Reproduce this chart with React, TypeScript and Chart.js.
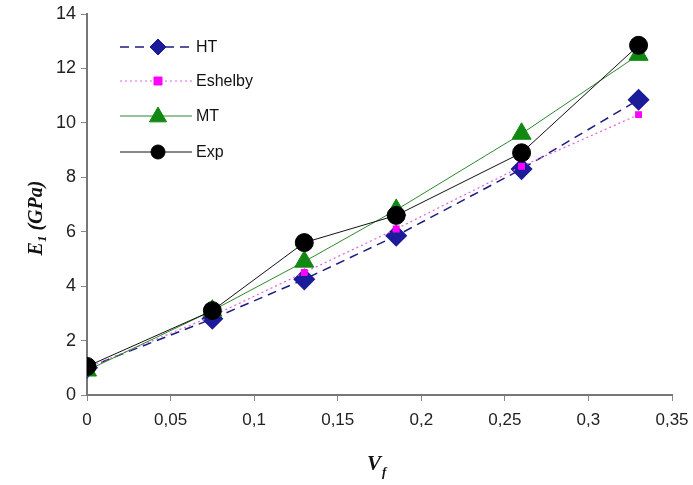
import React, { useEffect, useRef } from "react";
import { Chart, registerables } from "chart.js";
Chart.register(...registerables);

const vf = [0, 0.075, 0.13, 0.185, 0.26, 0.33];
const htValues = [1.0, 2.8, 4.25, 5.85, 8.3, 10.85];
const eshelbyValues = [1.0, 2.9, 4.5, 6.1, 8.4, 10.3];
const mtValues = [0.9, 3.1, 4.9, 6.8, 9.6, 12.5];
const expValues = [1.05, 3.1, 5.6, 6.6, 8.9, 12.85];
const seriesNames = ["HT", "Eshelby", "MT", "Exp"];
const xTicks = [0, 0.05, 0.1, 0.15, 0.2, 0.25, 0.3, 0.35];

const pts = (vals: number[]) => vf.map((x, i) => ({ x, y: vals[i] }));

function drawPointLocal(ctx: CanvasRenderingContext2D, style: string, r: number, x: number, y: number) {
  ctx.beginPath();
  if (style === "rectRot") {
    ctx.moveTo(x, y - r);
    ctx.lineTo(x + r, y);
    ctx.lineTo(x, y + r);
    ctx.lineTo(x - r, y);
    ctx.closePath();
  } else if (style === "rect") {
    ctx.rect(x - r, y - r, 2 * r, 2 * r);
  } else if (style === "triangle") {
    ctx.moveTo(x, y - r);
    ctx.lineTo(x + r * 0.95, y + r * 0.65);
    ctx.lineTo(x - r * 0.95, y + r * 0.65);
    ctx.closePath();
  } else {
    ctx.arc(x, y, r, 0, Math.PI * 2);
  }
  ctx.fill();
  ctx.stroke();
}

const titlesLegendPlugin = {
  id: "titlesLegend",
  afterDraw(chart: any) {
    const ctx = chart.ctx;
    ctx.save();
    // Y title: E1 (GPa)
    ctx.translate(37, 218);
    ctx.rotate(-Math.PI / 2);
    ctx.fillStyle = "#111";
    ctx.textBaseline = "middle";
    ctx.textAlign = "left";
    const big = "bold italic 20px 'Liberation Serif'";
    const small = "bold italic 13px 'Liberation Serif'";
    ctx.font = big;
    const wE = ctx.measureText("E").width;
    const wRest = ctx.measureText(" (GPa)").width;
    ctx.font = small;
    const w1 = ctx.measureText("1").width;
    const total = wE + w1 + wRest;
    const x0 = -total / 2;
    ctx.font = big;
    ctx.fillText("E", x0, 0);
    ctx.font = small;
    ctx.fillText("1", x0 + wE, 6);
    ctx.font = big;
    ctx.fillText(" (GPa)", x0 + wE + w1, 0);
    ctx.restore();

    // X title: Vf
    ctx.save();
    ctx.fillStyle = "#111";
    ctx.textBaseline = "middle";
    ctx.textAlign = "left";
    ctx.font = "bold italic 21px 'Liberation Serif'";
    ctx.fillText("V", 367, 465);
    ctx.font = "bold italic 13px 'Liberation Serif'";
    ctx.fillText("f", 382, 473);
    ctx.restore();

    // Legend
    ctx.save();
    const rows = [47, 81, 116, 152];
    chart.data.datasets.forEach((ds: any, i: number) => {
      const y = rows[i];
      ctx.save();
      ctx.strokeStyle = ds.borderColor;
      ctx.lineWidth = ds.borderWidth;
      ctx.setLineDash(ds.borderDash || []);
      ctx.beginPath();
      ctx.moveTo(120, y);
      ctx.lineTo(192, y);
      ctx.stroke();
      ctx.restore();
      ctx.save();
      ctx.fillStyle = ds.backgroundColor;
      ctx.strokeStyle = ds.pointBorderColor;
      ctx.lineWidth = 1;
      drawPointLocal(ctx, ds.pointStyle, ds.legendRadius, 158, y);
      ctx.restore();
      ctx.fillStyle = "#111";
      ctx.font = "16px 'Liberation Sans'";
      ctx.textAlign = "left";
      ctx.textBaseline = "middle";
      ctx.fillText(seriesNames[i], 196, y + 1);
    });
    ctx.restore();
  },
};

export default function App() {
  const ref = useRef<HTMLCanvasElement>(null);
  useEffect(() => {
    document.body.style.margin = "0";
    const canvas = ref.current!;
    const chart = new Chart(canvas, {
      type: "scatter",
      data: {
        datasets: [
          {
            label: "HT",
            data: pts(htValues),
            showLine: true,
            borderColor: "#1c1c80",
            backgroundColor: "#1c1c9a",
            borderWidth: 1.5,
            borderDash: [9, 6],
            pointStyle: "rectRot",
            pointRadius: 10,
            pointBorderColor: "#1c1c9a",
            order: 3,
            legendRadius: 8,
          } as any,
          {
            label: "Eshelby",
            data: pts(eshelbyValues),
            showLine: true,
            borderColor: "#e060e0",
            backgroundColor: "#ff00ff",
            borderWidth: 1.2,
            borderDash: [2, 3],
            pointStyle: "rect",
            pointRadius: 4,
            pointBorderColor: "#ff00ff",
            order: 2,
            legendRadius: 4,
          } as any,
          {
            label: "MT",
            data: pts(mtValues),
            showLine: true,
            borderColor: "#2a8a2a",
            backgroundColor: "#118811",
            borderWidth: 1,
            pointStyle: "triangle",
            pointRadius: 11,
            pointBorderColor: "#118811",
            order: 1,
            legendRadius: 9,
          } as any,
          {
            label: "Exp",
            data: pts(expValues),
            showLine: true,
            borderColor: "#111111",
            backgroundColor: "#000000",
            borderWidth: 1,
            pointStyle: "circle",
            pointRadius: 9,
            pointBorderColor: "#000000",
            order: 0,
            legendRadius: 7,
          } as any,
        ],
      },
      options: {
        animation: false,
        responsive: false,
        maintainAspectRatio: false,
        layout: { padding: { left: 0, top: 14, right: 21, bottom: 0 } },
        plugins: { legend: { display: false }, tooltip: { enabled: false } },
        scales: {
          x: {
            type: "linear",
            min: 0,
            max: 0.35,
            afterBuildTicks: (axis: any) => {
              axis.ticks = xTicks.map((v) => ({ value: v }));
            },
            afterFit: (axis: any) => {
              axis.height = 90;
              axis.paddingRight = 0;
              axis.paddingLeft = 0;
            },
            ticks: {
              color: "#222",
              font: { family: "'Liberation Sans'", size: 17 },
              padding: 9,
              maxRotation: 0,
              callback: (v: any) => String(Number(v.toFixed(2))).replace(".", ","),
            },
            grid: {
              display: true,
              drawOnChartArea: false,
              drawTicks: true,
              tickLength: 6,
              color: "#888",
              lineWidth: 1,
            },
            border: { display: true, color: "#777", width: 2 },
          },
          y: {
            type: "linear",
            min: 0,
            max: 14,
            afterFit: (axis: any) => {
              axis.width = 87;
              axis.paddingTop = 0;
              axis.paddingBottom = 0;
            },
            ticks: {
              stepSize: 2,
              color: "#222",
              font: { family: "'Liberation Sans'", size: 18 },
              padding: 5,
            },
            grid: {
              display: true,
              drawOnChartArea: false,
              drawTicks: true,
              tickLength: 6,
              color: "#888",
              lineWidth: 1,
            },
            border: { display: true, color: "#777", width: 2 },
          },
        },
      } as any,
      plugins: [titlesLegendPlugin],
    });
    return () => chart.destroy();
  }, []);
  return <canvas ref={ref} width={693} height={485} style={{ display: "block" }} />;
}
